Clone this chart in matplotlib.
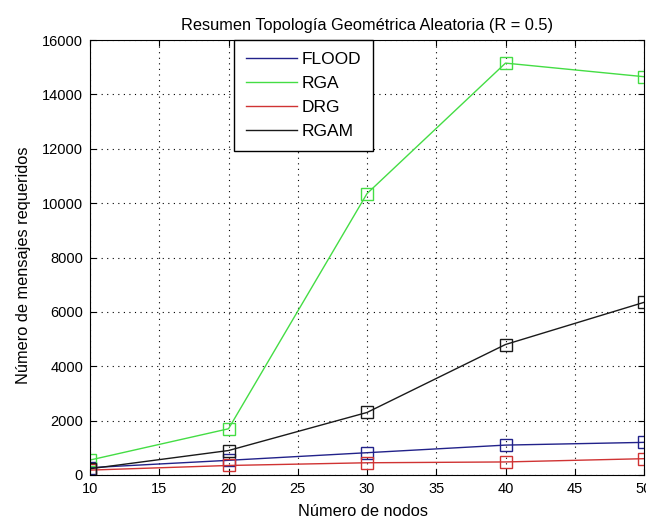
import matplotlib.pyplot as plt

plt.rcParams["font.family"] = ["Liberation Sans", "DejaVu Sans"]
plt.rcParams["font.size"] = 11

# Data
nodos = [10, 20, 30, 40, 50]
flood = [270, 540, 820, 1100, 1200]
rga = [550, 1700, 10350, 15150, 14650]
drg = [180, 350, 450, 480, 600]
rgam = [230, 900, 2300, 4800, 6350]

series = [
    ("FLOOD", flood, "#22228a"),
    ("RGA", rga, "#44dd44"),
    ("DRG", drg, "#d03333"),
    ("RGAM", rgam, "#1a1a1a"),
]

W, H = 646, 518
fig = plt.figure(figsize=(W / 100, H / 100), dpi=100)
ax = fig.add_axes([90 / W, 1 - 475 / H, 554 / W, 435 / H])

lines = []
for name, vals, color in series:
    (ln,) = ax.plot(nodos, vals, color=color, lw=1.0)
    ax.plot(nodos, vals, ls="none", marker="s", ms=8, mfc="none",
            mec=color, mew=1.0)
    lines.append(ln)

ax.set_xlim(10, 50)
ax.set_ylim(0, 16000)
ax.set_xticks(range(10, 51, 5))
ax.set_yticks(range(0, 16001, 2000))
ax.grid(True, color="black", linestyle=(0, (1, 4)), linewidth=0.8)
ax.tick_params(direction="in", length=4, top=True, right=True,
               labelsize=10.5, pad=5)

ax.set_title("Resumen Topología Geométrica Aleatoria (R = 0.5)",
             fontsize=11.8, pad=7)
fig.text(363 / W, 1 - 511 / H, "Número de nodos",
         ha="center", va="center", fontsize=11.8)
fig.text(24 / W, 1 - 265 / H, "Número de mensajes requeridos",
         ha="center", va="center", rotation=90, fontsize=11.8)

leg = fig.legend(lines, [s[0] for s in series], loc="upper left",
                 bbox_to_anchor=(234 / W, 1 - 40 / H), fancybox=False,
                 edgecolor="black", framealpha=1, handlelength=2.9,
                 handletextpad=0.3, fontsize=12.5, borderpad=0.7,
                 borderaxespad=0, labelspacing=0.5)
leg.get_frame().set_linewidth(1.0)

fig.savefig("out.png", dpi=100)
